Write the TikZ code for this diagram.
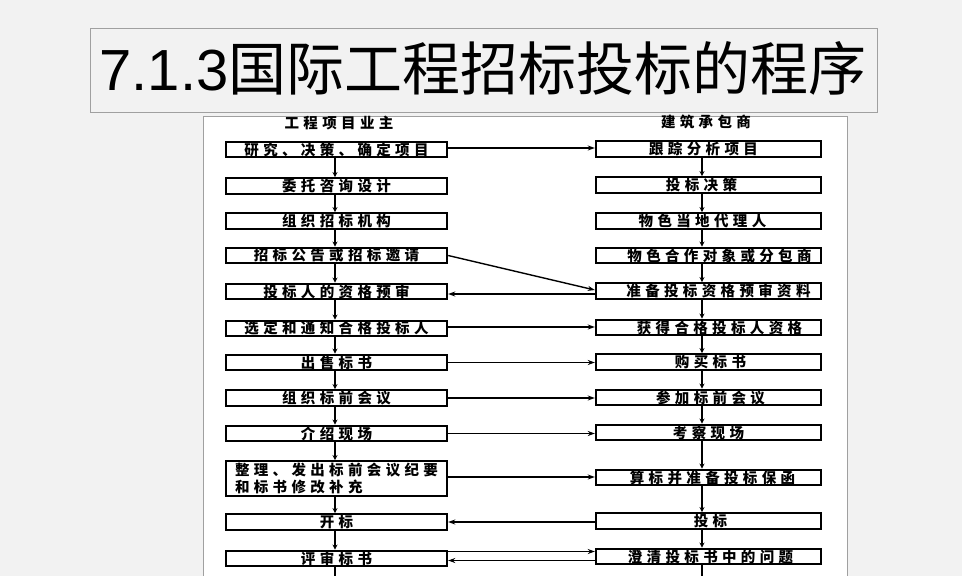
\documentclass[tikz,border=0pt]{standalone}
\usepackage{fontspec}
\setmainfont{Liberation Sans}
\newfontfamily\cjk{Noto Sans CJK SC}
\newfontfamily\cjkls{Noto Sans CJK SC}[LetterSpace=30]
\usetikzlibrary{arrows.meta}
\definecolor{bgc}{HTML}{F2F2F2}
\definecolor{framec}{HTML}{A0A0A0}
\begin{document}
\begin{tikzpicture}[x=1pt,y=-1pt,
  box/.style={draw=black, line width=2.4pt, fill=white, minimum height=15.5pt, inner sep=0pt,
    font=\cjkls\bfseries\fontsize{14.5}{17}\selectfont},
  lbox/.style={box, minimum width=221pt},
  rbox/.style={box, minimum width=225pt},
  head/.style={font=\cjkls\bfseries\fontsize{14.5}{17}\selectfont, inner sep=0pt},
  varrow/.style={line width=1.4pt, -{Stealth[length=5pt,width=5pt]}},
  harrow/.style={line width=1.4pt, -{Stealth[length=7pt,width=5pt]}},
  plain/.style={line width=1.4pt}]
\fill[bgc] (0,0) rectangle (962,576);
\useasboundingbox (0,0) rectangle (962,576);
% title
\draw[framec, fill=bgc, line width=0.8pt] (90,28) rectangle (877,112);
\node[inner sep=0pt, font=\fontsize{58}{60}\selectfont] (title) at (483,68) {7.1.3{\cjk 国际工程招标投标的程序}};
% scanned panel
\draw[framec, fill=white, line width=0.8pt] (203,116) rectangle (847,590);
% headers
\node[head] (hl) at (339,123) {工程项目业主};
\node[head] (hr) at (706,122) {建筑承包商};
% left column
\node[lbox] (L1) at (336.5,149.5) {研究、决策、确定项目};
\node[lbox] (L2) at (336.5,186) {委托咨询设计};
\node[lbox] (L3) at (336.5,221) {组织招标机构};
\node[lbox] (L4) at (336.5,255.5) {招标公告或招标邀请};
\node[lbox] (L5) at (336.5,291.5) {投标人的资格预审};
\node[lbox] (L6) at (336.5,328.5) {选定和通知合格投标人};
\node[lbox] (L7) at (336.5,362.5) {出售标书};
\node[lbox] (L8) at (336.5,398) {组织标前会议};
\node[lbox] (L9) at (336.5,433.5) {介绍现场};
\node[lbox, minimum height=34.5pt, align=left] (L10) at (336.5,478.5) {整理、发出标前会议纪要\\和标书修改补充};
\node[lbox] (L11) at (336.5,522) {开标};
\node[lbox] (L12) at (336.5,558.5) {评审标书};
% right column
\node[rbox] (R1) at (708.5,149) {跟踪分析项目\hspace*{10pt}};
\node[rbox] (R2) at (708.5,185) {投标决策\hspace*{14pt}};
\node[rbox] (R3) at (708.5,221) {物色当地代理人\hspace*{12pt}};
\node[rbox] (R4) at (708.5,255.5) {\hspace*{22pt}物色合作对象或分包商};
\node[rbox] (R5) at (708.5,291) {\hspace*{20pt}准备投标资格预审资料};
\node[rbox] (R6) at (708.5,327.5) {\hspace*{22pt}获得合格投标人资格};
\node[rbox] (R7) at (708.5,362) {\hspace*{4pt}购买标书};
\node[rbox] (R8) at (708.5,397.5) {\hspace*{4pt}参加标前会议};
\node[rbox] (R9) at (708.5,432.5) {考察现场};
\node[rbox] (R10) at (708.5,477.5) {\hspace*{8pt}算标并准备投标保函};
\node[rbox] (R11) at (708.5,521) {\hspace*{4pt}投标};
\node[rbox] (R12) at (708.5,556.5) {\hspace*{4pt}澄清投标书中的问题};
\coordinate (Lend) at (335,576);
\coordinate (Rend) at (702,576);
% vertical arrows left
\foreach \a/\b in {L1/L2,L2/L3,L3/L4,L4/L5,L5/L6,L6/L7,L7/L8,L8/L9,L9/L10,L10/L11,L11/L12}
  \draw[varrow] ([xshift=-1.5pt]\a.south) -- ([xshift=-1.5pt]\b.north);
\draw[plain] ([xshift=-1.5pt]L12.south) -- (Lend);
% vertical arrows right
\foreach \a/\b in {R1/R2,R2/R3,R3/R4,R4/R5,R5/R6,R6/R7,R7/R8,R8/R9,R9/R10,R10/R11,R11/R12}
  \draw[varrow] ([xshift=-6.5pt]\a.south) -- ([xshift=-6.5pt]\b.north);
\draw[plain] ([xshift=-6.5pt]R12.south) -- (Rend);
% horizontal connectors
\draw[harrow] ([yshift=1.5pt]L1.east) -- ([yshift=1.5pt]L1.east -| R1.west);
\draw[harrow] (L4.east) -- ([yshift=1pt]R5.west);
\draw[harrow] ([yshift=-3pt]R5.west) -- ([yshift=-3pt]R5.west -| L5.east);
\draw[harrow] ([yshift=1.5pt]L6.east) -- ([yshift=1.5pt]L6.east -| R6.west);
\draw[harrow] (L7.east) -- (L7.east -| R7.west);
\draw[harrow] (L8.east) -- (L8.east -| R8.west);
\draw[harrow] (L9.east) -- (L9.east -| R9.west);
\draw[harrow] ([yshift=1.5pt]L10.east) -- ([yshift=1.5pt]L10.east -| R10.west);
\draw[harrow] ([yshift=-1pt]R11.west) -- ([yshift=-1pt]R11.west -| L11.east);
\draw[harrow] ([yshift=7pt]L12.east) -- ([yshift=7pt]L12.east -| R12.west);
\draw[harrow] ([yshift=-4pt]R12.west) -- ([yshift=-4pt]R12.west -| L12.east);
\end{tikzpicture}
\end{document}
